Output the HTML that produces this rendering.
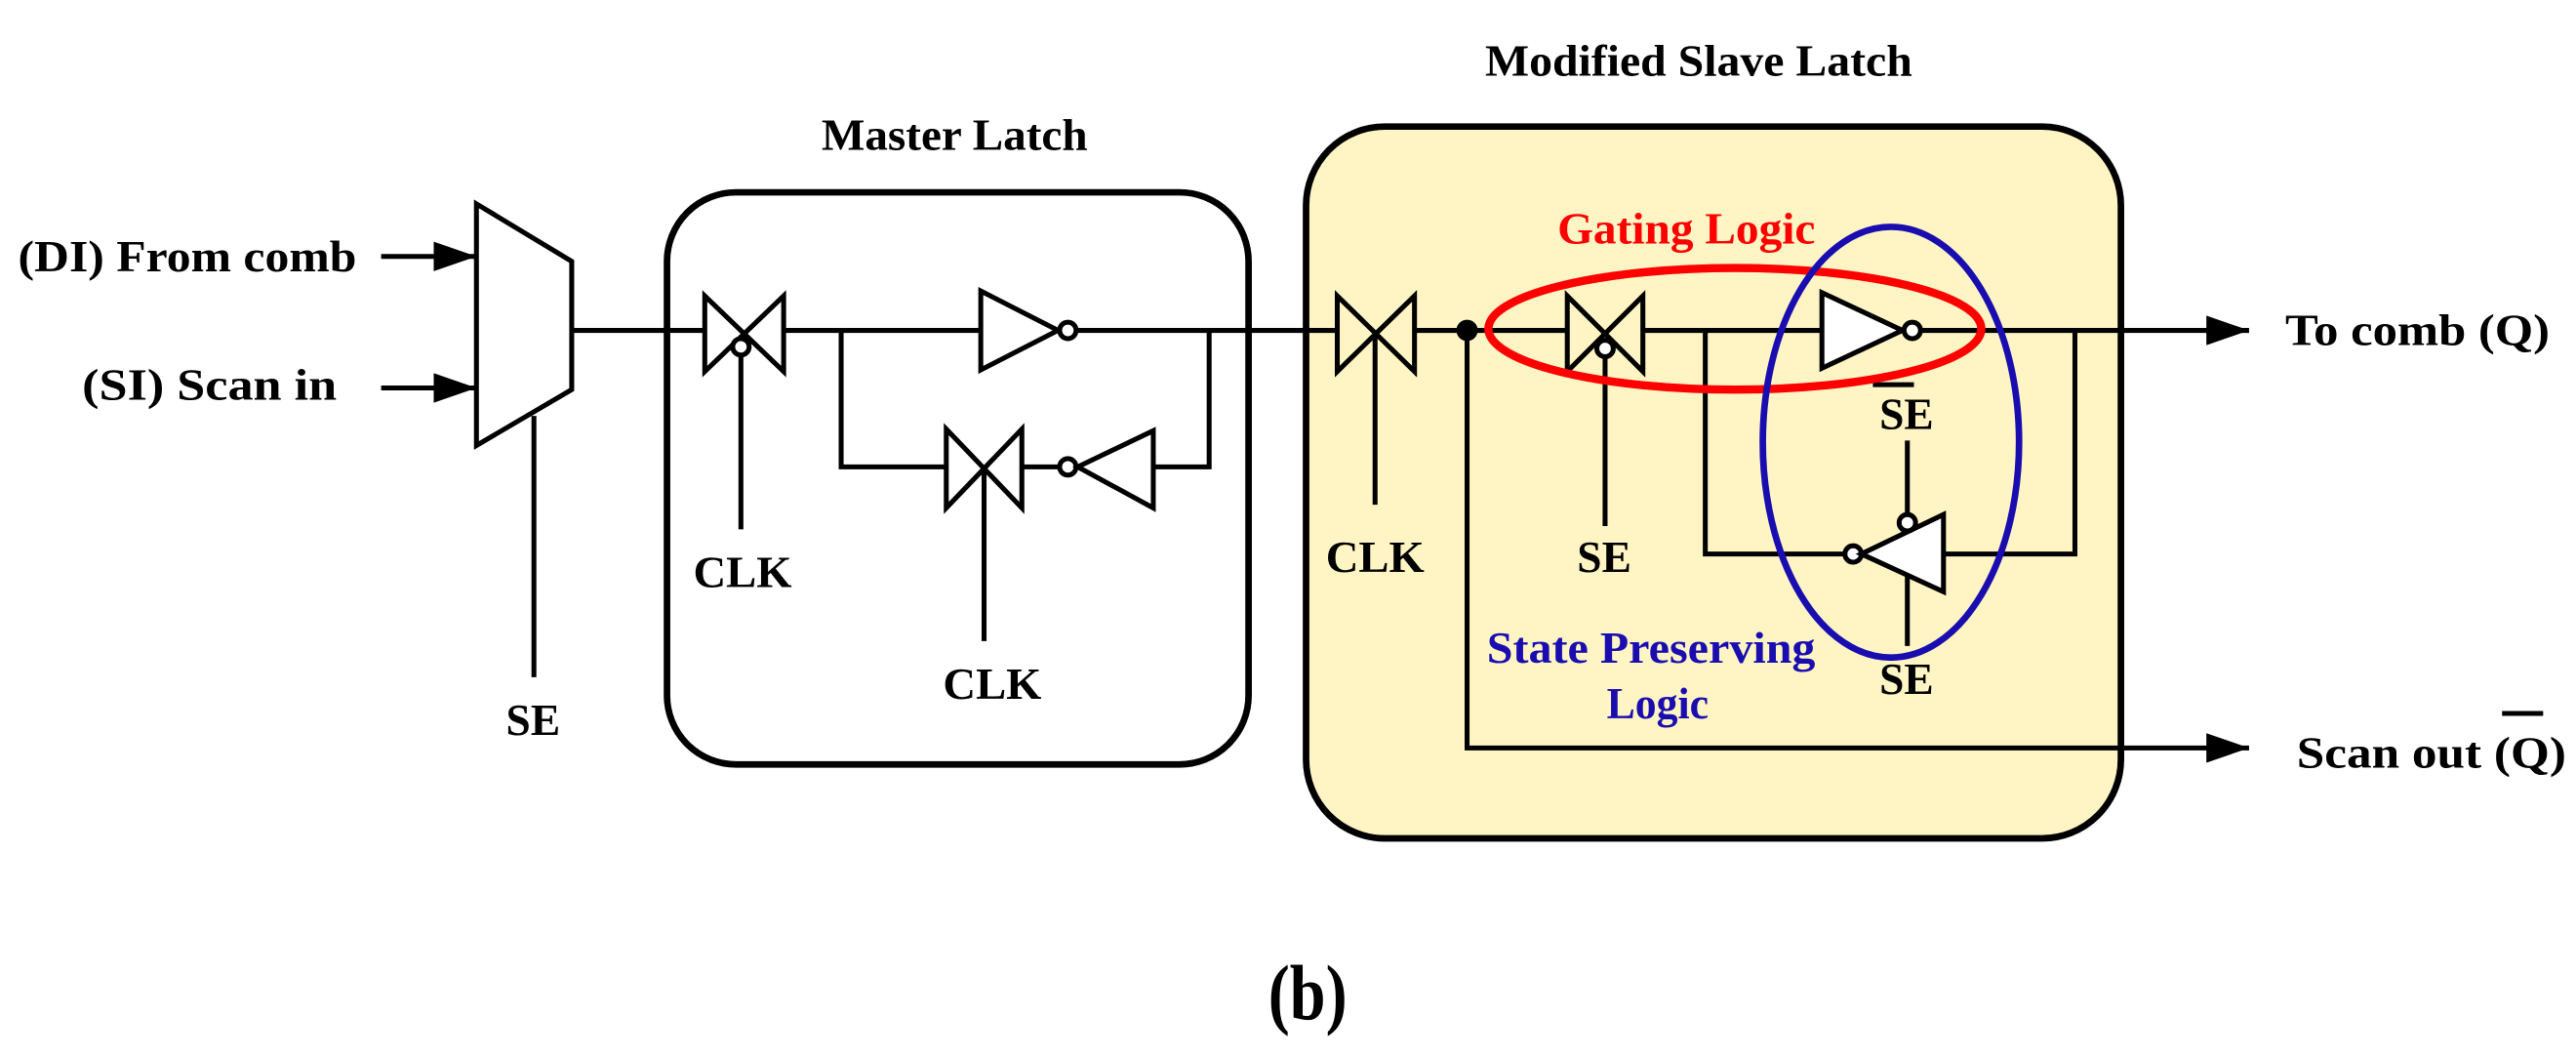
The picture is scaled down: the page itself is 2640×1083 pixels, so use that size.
<!DOCTYPE html>
<html><head><meta charset="utf-8"><style>html,body{margin:0;padding:0;background:#fff}svg{display:block}text{font-family:"Liberation Serif",serif;font-weight:bold}</style></head><body>
<svg width="2640" height="1083" viewBox="0 0 1568 643" preserveAspectRatio="none" xmlns="http://www.w3.org/2000/svg">
<defs>
<marker id="b" markerWidth="26" markerHeight="18" refX="26" refY="9" orient="auto" markerUnits="userSpaceOnUse"><path d="M0,0 L26,9 L0,18z" fill="#000"/></marker></defs>
<g stroke="#000" stroke-width="3" fill="none">
<rect x="795" y="77" width="496" height="433" rx="48" fill="#fff5c4" stroke-width="4"/>
<rect x="406" y="117" width="354" height="348" rx="42" stroke-width="4"/>
<line x1="232" y1="156" x2="290" y2="156" marker-end="url(#b)"/>
<line x1="232" y1="236" x2="290" y2="236" marker-end="url(#b)"/>
<polygon points="290,124 348,159 348,237 290,271" fill="#fff"/>
<line x1="325" y1="253" x2="325" y2="412"/>
<line x1="348" y1="201" x2="429" y2="201"/>
<polygon points="429,180 477,226 477,180 429,226"/>
<circle cx="451" cy="211" r="5" fill="#fff"/>
<line x1="451" y1="216" x2="451" y2="322"/>
<line x1="477" y1="201" x2="597" y2="201"/>
<polygon points="597,177 597,225 644,201" fill="#fff"/>
<circle cx="650" cy="201" r="5" fill="#fff"/>
<line x1="655" y1="201" x2="814" y2="201"/>
<polyline points="512,201 512,284 576,284"/>
<polygon points="576,261 622,309 622,261 576,309"/>
<line x1="599" y1="285" x2="599" y2="390"/>
<line x1="622" y1="284" x2="645" y2="284"/>
<circle cx="650" cy="284" r="5" fill="#fff"/>
<polygon points="702,262 702,309 656,284" fill="#fff"/>
<polyline points="702,284 736,284 736,201"/>
<polygon points="814,180 861,226 861,180 814,226"/>
<line x1="837" y1="203" x2="837" y2="307"/>
<line x1="861" y1="201" x2="954" y2="201"/>
<circle cx="893" cy="201" r="5" fill="#000"/>
<polyline points="893,201 893,455 1369,455" marker-end="url(#b)"/>
<polygon points="954,180 1000,226 1000,180 954,226"/>
<circle cx="977" cy="212" r="5" fill="#fff"/>
<line x1="977" y1="217" x2="977" y2="320"/>
<line x1="1000" y1="201" x2="1109" y2="201"/>
<polygon points="1109,178 1109,224 1158,201" fill="#fff"/>
<circle cx="1164" cy="201" r="5" fill="#fff"/>
<line x1="1169" y1="201" x2="1369" y2="201" marker-end="url(#b)"/>
<polyline points="1038,201 1038,337 1123,337"/>
<circle cx="1128" cy="337" r="5" fill="#fff"/>
<polygon points="1183,313 1183,360 1133,337" fill="#fff"/>
<circle cx="1161" cy="318" r="5" fill="#fff"/>
<line x1="1161" y1="268" x2="1161" y2="313"/>
<line x1="1161" y1="350" x2="1161" y2="393"/>
<polyline points="1183,337 1263,337 1263,201"/>
<line x1="1140" y1="234" x2="1165" y2="234"/>
<line x1="1523" y1="434" x2="1548" y2="434"/>
</g>
<ellipse cx="1056" cy="200" rx="150" ry="37" fill="none" stroke="#f00" stroke-width="5"/>
<ellipse cx="1151" cy="269" rx="78" ry="131" fill="none" stroke="#1a0db0" stroke-width="4"/>
<g font-size="27" fill="#000">
<text x="11" y="165" textLength="206" lengthAdjust="spacingAndGlyphs">(DI)  From comb</text>
<text x="50" y="243" textLength="155" lengthAdjust="spacingAndGlyphs">(SI)   Scan in</text>
<text x="308" y="447" textLength="33" lengthAdjust="spacingAndGlyphs">SE</text>
<text x="500" y="91" textLength="162" lengthAdjust="spacingAndGlyphs">Master Latch</text>
<text x="422" y="357" textLength="60" lengthAdjust="spacingAndGlyphs">CLK</text>
<text x="574" y="425" textLength="60" lengthAdjust="spacingAndGlyphs">CLK</text>
<text x="807" y="348" textLength="60" lengthAdjust="spacingAndGlyphs">CLK</text>
<text x="960" y="348" textLength="33" lengthAdjust="spacingAndGlyphs">SE</text>
<text x="904" y="46" textLength="260" lengthAdjust="spacingAndGlyphs">Modified Slave Latch</text>
<text x="1144" y="261" textLength="33" lengthAdjust="spacingAndGlyphs">SE</text>
<text x="1144" y="422" textLength="33" lengthAdjust="spacingAndGlyphs">SE</text>
<text x="1391" y="210" textLength="161" lengthAdjust="spacingAndGlyphs">To comb  (Q)</text>
<text x="1398" y="467" textLength="164" lengthAdjust="spacingAndGlyphs">Scan out  (Q)</text>
<text x="948" y="148" textLength="157" lengthAdjust="spacingAndGlyphs" fill="#f00">Gating Logic</text>
<text x="905" y="403" textLength="200" lengthAdjust="spacingAndGlyphs" fill="#1a0db0">State Preserving</text>
<text x="978" y="437" textLength="62" lengthAdjust="spacingAndGlyphs" fill="#1a0db0">Logic</text>
<text x="772" y="620" font-size="48" textLength="48" lengthAdjust="spacingAndGlyphs">(b)</text>
</g>
</svg>
</body></html>
